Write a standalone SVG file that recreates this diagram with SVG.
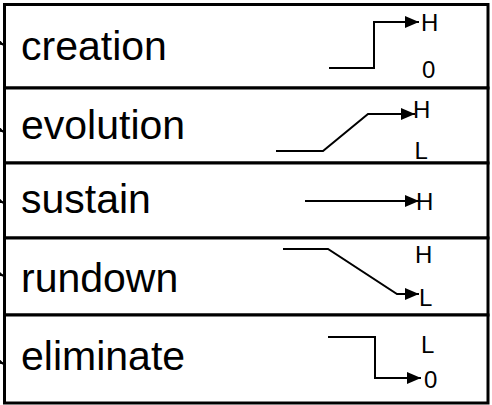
<svg xmlns="http://www.w3.org/2000/svg" width="492" height="405" viewBox="0 0 492 405">
<style>
.box{fill:#fff;stroke:#000;stroke-width:3}
.lbl{font-family:"Liberation Sans",Arial,sans-serif;font-size:41px;fill:#000}
.lvl{font-family:"Liberation Sans",Arial,sans-serif;font-size:24px;fill:#000}
.sig{fill:none;stroke:#000;stroke-width:2}
.con{fill:none;stroke:#000;stroke-width:2}
</style>
<defs>
<marker id="ah" viewBox="0 0 14 12" refX="14" refY="6" markerWidth="14" markerHeight="12" markerUnits="userSpaceOnUse" orient="auto">
<path d="M0,0 L14,6 L0,12 z" fill="#000"/>
</marker>
</defs>
<rect width="492" height="405" fill="#fff"/>
<g id="creation">
<rect class="box" x="4.5" y="4.5" width="483.5" height="83.5"/>
<text class="lbl" x="21" y="60">creation</text>
<path class="sig" d="M329,68 H374 V22 H419" marker-end="url(#ah)"/>
<text class="lvl" x="421" y="31">H</text>
<text class="lvl" x="422" y="78">0</text>
</g>
<g id="evolution">
<rect class="box" x="4.5" y="88" width="483.5" height="75"/>
<text class="lbl" x="21" y="139">evolution</text>
<path class="sig" d="M276,151 H323 L368,114 H415" marker-end="url(#ah)"/>
<text class="lvl" x="413" y="118">H</text>
<text class="lvl" x="414.5" y="159">L</text>
</g>
<g id="sustain">
<rect class="box" x="4.5" y="163" width="483.5" height="75"/>
<text class="lbl" x="21" y="213">sustain</text>
<path class="sig" d="M305,201 H419" marker-end="url(#ah)"/>
<text class="lvl" x="416" y="210">H</text>
</g>
<g id="rundown">
<rect class="box" x="4.5" y="238" width="483.5" height="77"/>
<text class="lbl" x="21" y="292">rundown</text>
<path class="sig" d="M283,249 H328 L397,294 H419" marker-end="url(#ah)"/>
<text class="lvl" x="415" y="263">H</text>
<text class="lvl" x="419" y="306">L</text>
</g>
<g id="eliminate">
<rect class="box" x="4.5" y="315" width="483.5" height="88"/>
<text class="lbl" x="21" y="370">eliminate</text>
<path class="sig" d="M328,337 H375 V378 H421" marker-end="url(#ah)"/>
<text class="lvl" x="421" y="353">L</text>
<text class="lvl" x="424" y="388">0</text>
</g>
<g id="connectors">
<path class="con" d="M-30,28 L4,45" marker-end="url(#ah)"/>
<path class="con" d="M-30,115 L4,132" marker-end="url(#ah)"/>
<path class="con" d="M-30,188 L4,203" marker-end="url(#ah)"/>
<path class="con" d="M-30,262 L4,276" marker-end="url(#ah)"/>
<path class="con" d="M-30,348 L4,364" marker-end="url(#ah)"/>
</g>
</svg>
